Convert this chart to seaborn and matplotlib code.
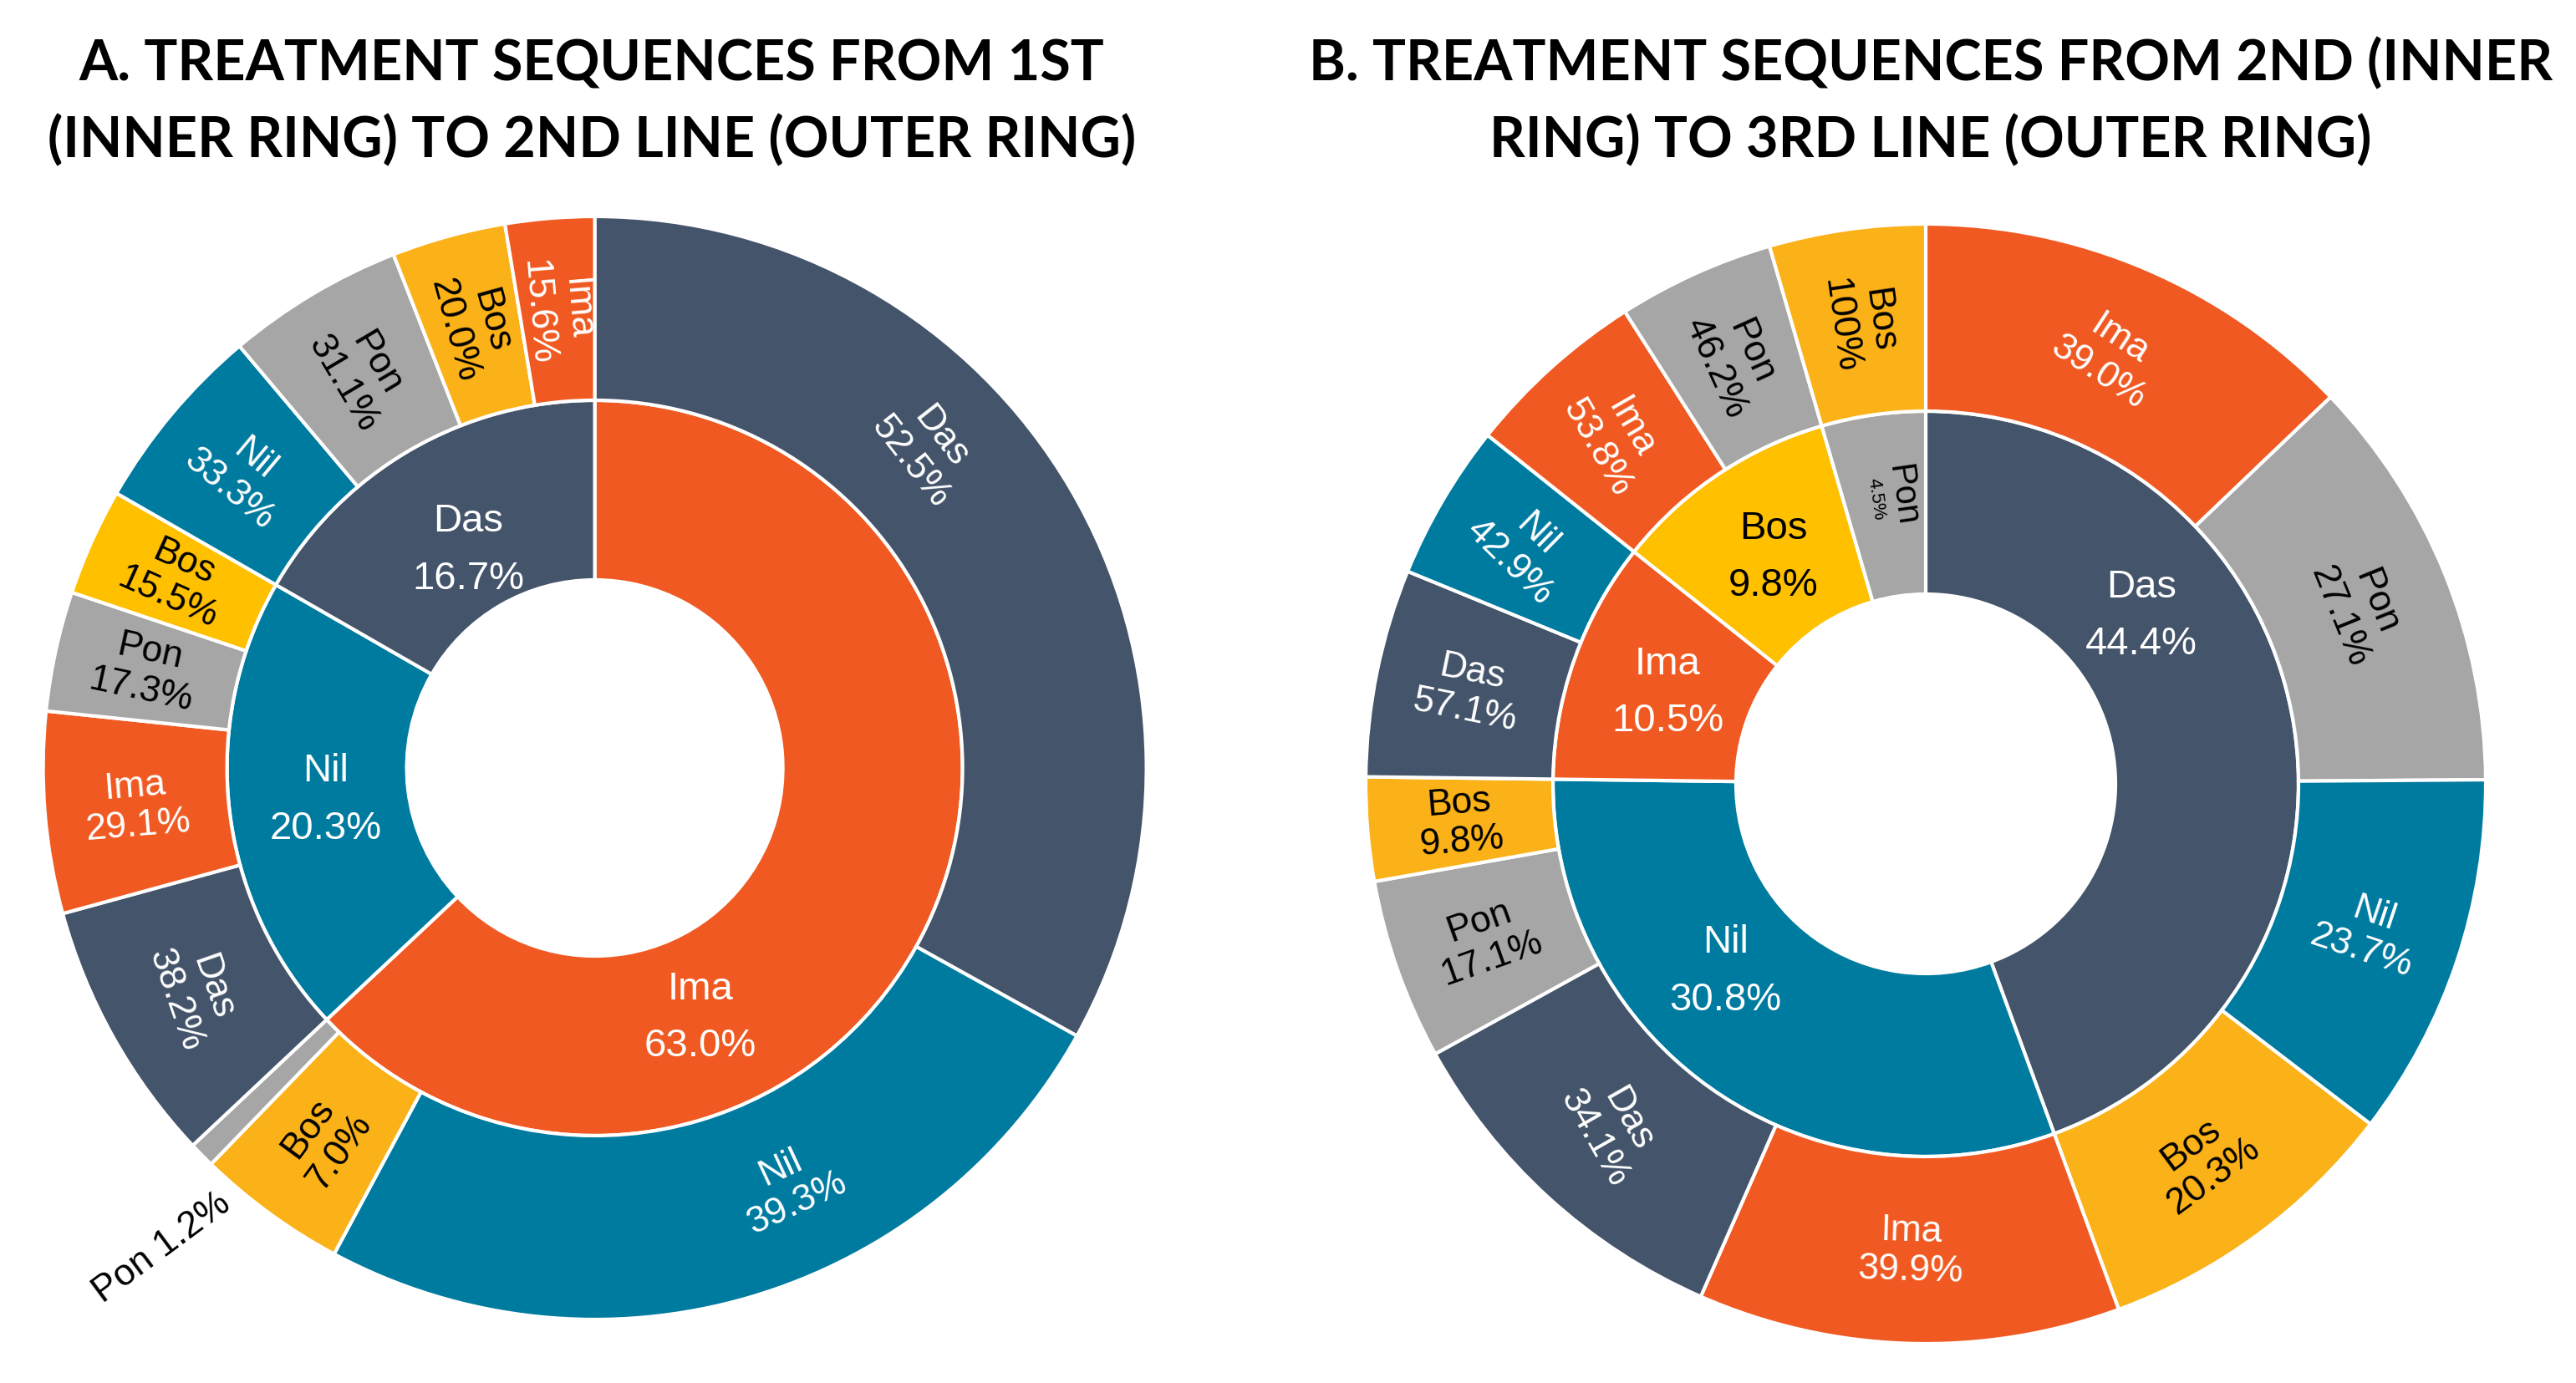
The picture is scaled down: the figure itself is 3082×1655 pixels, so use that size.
import numpy as np
import matplotlib
matplotlib.use("Agg")
import matplotlib.pyplot as plt
import seaborn as sns

# ------------------------------------------------------------------ data
a_title = ["A. TREATMENT SEQUENCES FROM 1ST", "(INNER RING) TO 2ND LINE (OUTER RING)"]
a_inner_names = ["Ima", "Nil", "Das"]
a_inner_pct = [63.0, 20.3, 16.7]
a_outer_names = [["Das", "Nil", "Bos", "Pon"],
                 ["Das", "Ima", "Pon", "Bos"],
                 ["Nil", "Pon", "Bos", "Ima"]]
a_outer_pct = [[52.5, 39.3, 7.0, 1.2],
               [38.2, 29.1, 17.3, 15.5],
               [33.3, 31.1, 20.0, 15.6]]
a_outer_size = a_outer_pct

b_title = ["B. TREATMENT SEQUENCES FROM 2ND (INNER", "RING) TO 3RD LINE (OUTER RING)"]
b_inner_names = ["Das", "Nil", "Ima", "Bos", "Pon"]
b_inner_pct = [44.4, 30.8, 10.5, 9.8, 4.5]
b_outer_names = [["Ima", "Pon", "Nil", "Bos"],
                 ["Ima", "Das", "Pon", "Bos"],
                 ["Das", "Nil"],
                 ["Ima", "Pon"],
                 ["Bos"]]
# percentages as printed in the figure
b_outer_pct = [[39.0, 27.1, 23.7, 20.3],
               [39.9, 34.1, 17.1, 9.8],
               [57.1, 42.9],
               [53.8, 46.2],
               [100.0]]
# segment sizes as drawn (the "Ima 39.0%" segment is drawn as 29.0%)
b_outer_size = [[29.0, 27.1, 23.7, 20.3],
                [39.9, 34.1, 17.1, 9.8],
                [57.1, 42.9],
                [53.8, 46.2],
                [100.0]]

# ------------------------------------------------------------------ style
W, H, DPI = 3082, 1656, 200
PX = DPI / 72.0
sns.set_theme(style="white")
plt.rcParams["font.family"] = ["Liberation Sans", "DejaVu Sans"]

pal = sns.color_palette(["#44546A", "#F05A22", "#007BA0", "#A6A6A6", "#FBB118"])
colors = dict(zip(["Das", "Ima", "Nil", "Pon", "Bos"], pal))
BOS_BRIGHT = "#FFC000"
dark_text = {"Pon", "Bos"}
LW = 1.5

a_inner_orient = ["h", "h", "h"]
a_outer_orient = [["t", "t", "r", "o"], ["t", "r", "r", "r"], ["r", "r", "r", "r"]]
b_inner_orient = ["h", "h", "h", "h", "r"]
b_outer_orient = [["t", "t", "r", "t"], ["t", "t", "r", "r"], ["r", "r"], ["r", "r"], ["r"]]

# label angle overrides (degrees clockwise from 12 o'clock)
a_inner_ang = {0: 157}
a_outer_ang = {(0, 0): 46, (0, 1): 155, (0, 3): 220.5}
b_inner_ang = {0: 52, 1: 227}
b_outer_ang = {}
# small extra text rotations (degrees)
a_outer_rot = {(1, 0): -10, (0, 0): -6, (0, 3): -13}
b_outer_rot = {(0, 0): -10, (1, 1): -18, (2, 1): -14, (3, 0): -12}
# inner label radius as fraction of the inner ring width
a_inner_rfrac = {2: 0.36}
b_inner_rfrac = {}

a_bright = {("outer", 1, 3)}
b_bright = {("inner", 3)}

fig = plt.figure(figsize=(W / DPI, H / DPI), dpi=DPI)
ax = fig.add_axes([0, 0, 1, 1])


def norm_rot(a):
    a = (a + 180.0) % 360.0 - 180.0
    if a > 90:
        a -= 180
    elif a <= -90:
        a += 180
    return a


def pct_txt(p):
    return "100%" if p >= 100 else f"{p:.1f}%"


def put_label(cx, cy, w, r_lab, orient, name, pct, color, fs_name, fs_pct,
              spacing, ang_cw=None, r_out=None, drot=0.0):
    phi = (w.theta1 + w.theta2) / 2.0 if ang_cw is None else 90.0 - ang_cw
    pr = np.deg2rad(phi)
    if orient == "o":
        rot = norm_rot(phi)
        ha = "left" if np.cos(np.deg2rad(rot - phi)) > 0 else "right"
        x = cx + (r_out + 18) * np.cos(pr)
        y = cy + (r_out + 18) * np.sin(pr)
        ax.text(x, y, f"{name} {pct}", rotation=rot + drot, rotation_mode="anchor",
                ha=ha, va="center", fontsize=fs_name, color="black")
        return
    if orient == "h":
        rot = 0.0
    elif orient == "r":
        rot = norm_rot(phi)
    else:
        rot = norm_rot(phi - 90)
    rot += drot
    x = cx + r_lab * np.cos(pr)
    y = cy + r_lab * np.sin(pr)
    rr = np.deg2rad(rot)
    up = np.array([-np.sin(rr), np.cos(rr)])
    d1 = spacing * fs_name * PX * 0.5
    d2 = spacing * fs_pct * PX * 0.5
    ax.text(x + up[0] * d1, y + up[1] * d1, name, rotation=rot, rotation_mode="anchor",
            ha="center", va="center", fontsize=fs_name, color=color)
    ax.text(x - up[0] * d2, y - up[1] * d2, pct, rotation=rot, rotation_mode="anchor",
            ha="center", va="center", fontsize=fs_pct, color=color)


def sunburst(cx_img, cy_img, r_hole, r_mid, r_out, inner_names, inner_pct,
             outer_names, outer_pct, outer_size, inner_orient, outer_orient,
             inner_ang, outer_ang, outer_rot, inner_rfrac, bright, title, title_x):
    cx, cy = cx_img, H - cy_img
    in_cols = [BOS_BRIGHT if ("inner", i) in bright else colors[n]
               for i, n in enumerate(inner_names)]
    w_in, _ = ax.pie(inner_pct, radius=r_mid, center=(cx, cy), startangle=90,
                     counterclock=False, colors=in_cols, frame=True,
                     wedgeprops=dict(width=r_mid - r_hole, edgecolor="white", linewidth=LW))
    flat, out_cols, meta = [], [], []
    for g, (p, names, sizes) in enumerate(zip(inner_pct, outer_names, outer_size)):
        tot = sum(sizes)
        for j, (n, s) in enumerate(zip(names, sizes)):
            flat.append(p * s / tot)
            out_cols.append(BOS_BRIGHT if ("outer", g, j) in bright else colors[n])
            meta.append((g, j, n, outer_pct[g][j]))
    w_out, _ = ax.pie(flat, radius=r_out, center=(cx, cy), startangle=90,
                      counterclock=False, colors=out_cols, frame=True,
                      wedgeprops=dict(width=r_out - r_mid, edgecolor="white", linewidth=LW))
    # inner labels
    for i, (w, n, p) in enumerate(zip(w_in, inner_names, inner_pct)):
        col = "black" if n in dark_text else "white"
        o = inner_orient[i]
        r_lab = r_hole + inner_rfrac.get(i, 0.46) * (r_mid - r_hole)
        if o == "r":
            put_label(cx, cy, w, (r_hole + r_mid) / 2 + 10, o, n, pct_txt(p), col,
                      15, 8, 1.0, inner_ang.get(i))
        else:
            put_label(cx, cy, w, r_lab, o, n, pct_txt(p), col, 17, 17, 1.45,
                      inner_ang.get(i))
    r_out_lab = (r_mid + r_out) / 2.0
    for w, (g, j, n, p) in zip(w_out, meta):
        col = "black" if n in dark_text else "white"
        put_label(cx, cy, w, r_out_lab, outer_orient[g][j], n, pct_txt(p), col,
                  16, 16, 1.05, outer_ang.get((g, j)), r_out=r_out,
                  drot=outer_rot.get((g, j), 0.0))
    for k, line in enumerate(title):
        ax.text(title_x, H - (77 + 92 * k), line, ha="center", va="center",
                fontsize=24, fontweight="bold", family=["Lato", "DejaVu Sans"],
                color="black")


sunburst(711.6, 920, 225, 440, 660, a_inner_names, a_inner_pct, a_outer_names,
         a_outer_pct, a_outer_size, a_inner_orient, a_outer_orient,
         a_inner_ang, a_outer_ang, a_outer_rot, a_inner_rfrac, a_bright, a_title, 708)
sunburst(2304, 939, 227, 446, 670, b_inner_names, b_inner_pct, b_outer_names,
         b_outer_pct, b_outer_size, b_inner_orient, b_outer_orient,
         b_inner_ang, b_outer_ang, b_outer_rot, b_inner_rfrac, b_bright, b_title, 2310)

ax.set_xlim(0, W)
ax.set_ylim(0, H)
ax.set_aspect("equal")
ax.axis("off")
fig.savefig("out.png", dpi=DPI, facecolor="white")
